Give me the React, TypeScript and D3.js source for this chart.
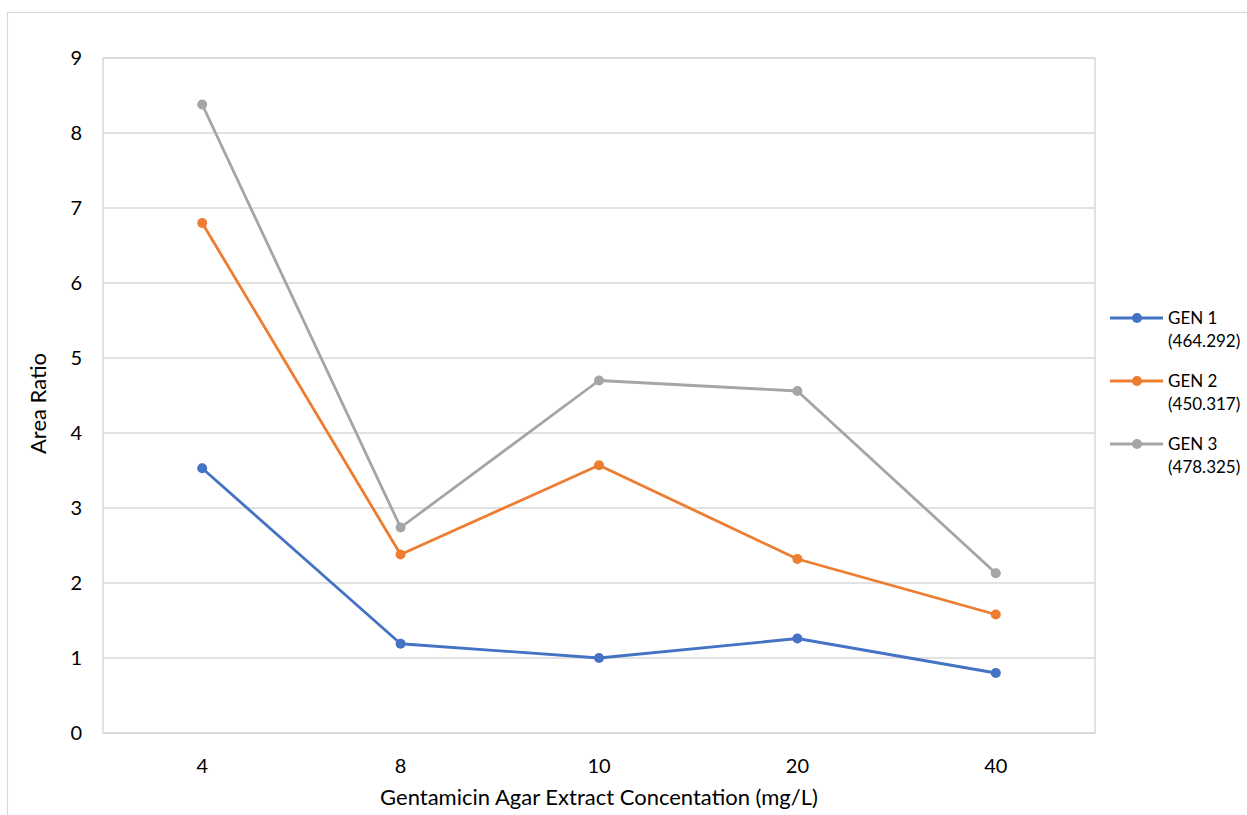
import React from "react";
import * as d3 from "d3";

const categories = ["4", "8", "10", "20", "40"];
const yTicks = [0, 1, 2, 3, 4, 5, 6, 7, 8, 9];
const gen1 = [3.53, 1.19, 1.0, 1.26, 0.8];
const gen2 = [6.8, 2.38, 3.57, 2.32, 1.58];
const gen3 = [8.38, 2.74, 4.7, 4.56, 2.13];
const seriesNames = [["GEN 1", "(464.292)"], ["GEN 2", "(450.317)"], ["GEN 3", "(478.325)"]];
const seriesColors = ["#4472C4", "#ED7D31", "#A5A5A5"];

const W = 1247;
const H = 815;
const plot = { left: 103, right: 1095, top: 58, bottom: 733 };
const font = "Lato, 'Open Sans', Calibri, sans-serif";

export default function App() {
  const x = d3
    .scaleBand<string>()
    .domain(categories)
    .range([plot.left, plot.right])
    .paddingInner(0)
    .paddingOuter(0);
  const cx = (c: string) => (x(c) ?? 0) + x.bandwidth() / 2;
  const y = d3.scaleLinear().domain([0, 9]).range([plot.bottom, plot.top]);
  const line = d3
    .line<number>()
    .x((_, i) => cx(categories[i]))
    .y((v) => y(v));
  const series = [gen1, gen2, gen3];

  return (
    <svg
      width={W}
      height={H}
      style={{ position: "absolute", left: 0, top: 0, background: "#fff" }}
      fontFamily={font}
    >
      <rect x={7.5} y={12.5} width={W + 20} height={H + 20} fill="#fff" stroke="#d9d9d9" strokeWidth={1.2} />
      {yTicks.map((t) => (
        <line key={t} x1={plot.left} x2={plot.right} y1={y(t)} y2={y(t)} stroke="#d9d9d9" strokeWidth={1.5} />
      ))}
      <rect
        x={plot.left}
        y={plot.top}
        width={plot.right - plot.left}
        height={plot.bottom - plot.top}
        fill="none"
        stroke="#d9d9d9"
        strokeWidth={1.5}
      />
      {yTicks.map((t) => (
        <text key={t} x={82} y={y(t)} dy="0.35em" textAnchor="end" fontSize={20} fill="#000">
          {t}
        </text>
      ))}
      {categories.map((c) => (
        <text key={c} x={cx(c)} y={766} dy="0.35em" textAnchor="middle" fontSize={20} fill="#000">
          {c}
        </text>
      ))}
      <text x={(plot.left + plot.right) / 2} y={797} dy="0.35em" textAnchor="middle" fontSize={22} fill="#000">
        Gentamicin Agar Extract Concentation (mg/L)
      </text>
      <text
        transform={`translate(38, ${(plot.top + plot.bottom) / 2 + 8}) rotate(-90)`}
        dy="0.35em"
        textAnchor="middle"
        fontSize={22}
        fill="#000"
      >
        Area Ratio
      </text>
      {series.map((s, i) => (
        <g key={i}>
          <path d={line(s) ?? ""} fill="none" stroke={seriesColors[i]} strokeWidth={2.8} strokeLinejoin="round" />
          {s.map((v, j) => (
            <circle key={j} cx={cx(categories[j])} cy={y(v)} r={5} fill={seriesColors[i]} />
          ))}
        </g>
      ))}
      {seriesNames.map((n, i) => {
        const ly = 318 + i * 63;
        return (
          <g key={i}>
            <line x1={1110} x2={1163} y1={ly} y2={ly} stroke={seriesColors[i]} strokeWidth={2.8} />
            <circle cx={1137} cy={ly} r={5} fill={seriesColors[i]} />
            <text x={1168} y={ly} dy="0.35em" fontSize={17} fill="#000">
              {n[0]}
            </text>
            <text x={1168} y={ly + 23} dy="0.35em" fontSize={17} fill="#000">
              {n[1]}
            </text>
          </g>
        );
      })}
    </svg>
  );
}
